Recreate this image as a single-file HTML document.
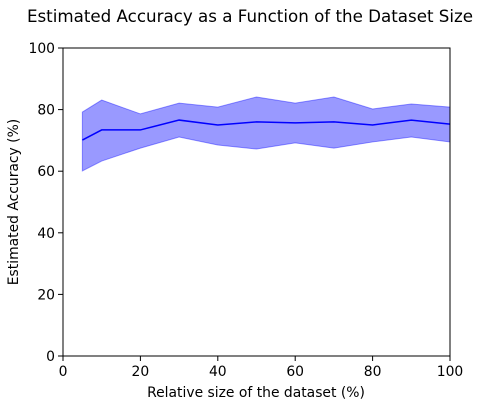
<!DOCTYPE html>
<html><head><meta charset="utf-8"><style>
body{margin:0;background:#fff;}
svg{display:block;font-family:"DejaVu Sans","Liberation Sans",sans-serif;}
</style></head><body>
<svg id="chart" width="500" height="400" viewBox="0 0 500 400">
<text x="250" y="22" text-anchor="middle" font-size="16.7">Estimated Accuracy as a Function of the Dataset Size</text>
<g id="plot"></g>
<text x="256" y="397" text-anchor="middle" font-size="13.9">Relative size of the dataset (%)</text>
<text transform="translate(18,202) rotate(-90)" text-anchor="middle" font-size="13.9">Estimated Accuracy (%)</text>
</svg>
<script>
const sizes=[5,10,20,30,40,50,60,70,80,90,100];
const meanAcc=[70.1,73.4,73.4,76.6,75.0,76.0,75.7,76.0,75.0,76.6,75.3];
const upperAcc=[79.2,83.1,78.6,82.1,80.8,84.1,82.1,84.1,80.2,81.8,80.8];
const lowerAcc=[60.1,63.3,67.5,71.1,68.5,67.2,69.2,67.5,69.5,71.1,69.5];
const xTicks=[0,20,40,60,80,100];
const yTicks=[0,20,40,60,80,100];
const L=63,R=450,T=48,B=356;
const xs=v=>L+(v/100)*(R-L);
const ys=v=>B-(v/100)*(B-T);
const ns="http://www.w3.org/2000/svg";
const g=document.getElementById('plot');
function mk(tag,attrs){const e=document.createElementNS(ns,tag);for(const k in attrs)e.setAttribute(k,attrs[k]);g.appendChild(e);return e;}
let d=sizes.map((s,i)=>(i?'L':'M')+xs(s)+','+ys(upperAcc[i])).join('');
for(let i=sizes.length-1;i>=0;i--)d+='L'+xs(sizes[i])+','+ys(lowerAcc[i]);
d+='Z';
const band=mk('path',{d:d,fill:'#0000ff',"fill-opacity":0.4,stroke:'#0000ff',"stroke-opacity":0.4,"stroke-width":1});


const line=mk('path',{d:sizes.map((s,i)=>(i?'L':'M')+xs(s)+','+ys(meanAcc[i])).join(''),fill:'none',stroke:'#0000ff',"stroke-width":1.5});


const frame=mk('rect',{x:L,y:T,width:R-L,height:B-T,fill:'none',stroke:'#000',"stroke-width":1});


xTicks.forEach(t=>{
  const tk=mk('line',{x1:xs(t),x2:xs(t),y1:B,y2:B+5,stroke:'#000',"stroke-width":1});
  
  
  const lb=mk('text',{x:xs(t),y:B+20,"text-anchor":'middle',"font-size":13.9});
  lb.textContent=t;
  
  
});
yTicks.forEach(t=>{
  const tk=mk('line',{x1:L-5,x2:L,y1:ys(t),y2:ys(t),stroke:'#000',"stroke-width":1});
  
  
  const lb=mk('text',{x:L-8,y:ys(t)+5,"text-anchor":'end',"font-size":13.9});
  lb.textContent=t;
  
  
});
</script>
</body></html>
